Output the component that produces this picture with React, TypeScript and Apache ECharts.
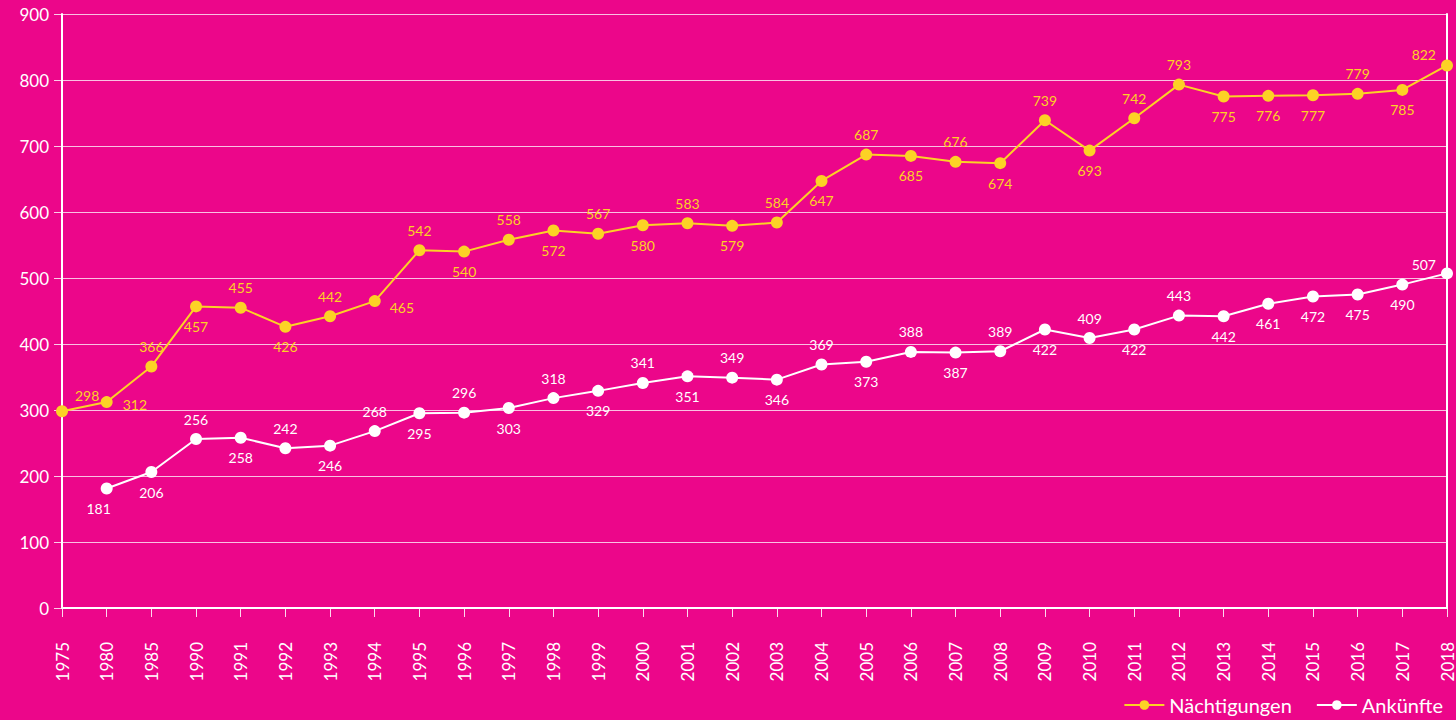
import React, { useEffect, useRef } from "react";
import * as echarts from "echarts";

const years = ["1975","1980","1985","1990","1991","1992","1993","1994","1995","1996","1997","1998","1999","2000","2001","2002","2003","2004","2005","2006","2007","2008","2009","2010","2011","2012","2013","2014","2015","2016","2017","2018"];
const naechtigungen = [298,312,366,457,455,426,442,465,542,540,558,572,567,580,583,579,584,647,687,685,676,674,739,693,742,793,775,776,777,779,785,822];
const ankuenfte = [null,181,206,256,258,242,246,268,295,296,303,318,329,341,351,349,346,369,373,388,387,389,422,409,422,443,442,461,472,475,490,507];
const nPos = ["right","right","top","bottom","top","bottom","top","right","top","bottom","top","bottom","top","bottom","top","bottom","top","bottom","top","bottom","top","bottom","top","bottom","top","top","bottom","bottom","bottom","top","bottom","left"];
const aPos = ["bottom","bottom","bottom","top","bottom","top","bottom","top","bottom","top","bottom","top","bottom","top","bottom","top","bottom","top","bottom","top","bottom","top","bottom","top","bottom","top","bottom","bottom","bottom","bottom","bottom","left"];

const BG = "#EC068A";
const YELLOW = "#FCD225";
const FONT = "Lato, 'Noto Sans', sans-serif";

function labelOffset(series: string, i: number, pos: string, n: number): number[] {
  if (series === "n" && i === 0) return [0, -16];
  if (series === "n" && i === 1) return [3, 2];
  if (series === "n" && pos === "right") return [2, 6];
  if (series === "a" && i === 1) return [-8, 0];
  if (i === n - 1) return series === "n" ? [2, -11] : [2, -9];
  return [0, 0];
}

export default function App() {
  const ref = useRef<HTMLDivElement>(null);
  useEffect(() => {
    const chart = echarts.init(ref.current!, null, { renderer: "svg" });
    const mk = (s: string, vals: (number | null)[], pos: string[]) =>
      vals.map((v, i) => ({
        value: v,
        label: { position: pos[i], offset: labelOffset(s, i, pos[i], vals.length) },
      }));
    chart.setOption({
      animation: false,
      backgroundColor: BG,
      textStyle: { fontFamily: FONT },
      grid: { left: 62, right: 9, top: 14, bottom: 112, containLabel: false },
      legend: {
        right: 8,
        bottom: 0,
        itemWidth: 40,
        itemHeight: 12,
        itemGap: 24,
        textStyle: { color: "#fff", fontSize: 20, fontFamily: FONT },
        data: ["Nächtigungen", "Ankünfte"],
      },
      xAxis: {
        type: "category",
        data: years,
        boundaryGap: false,
        axisLine: { lineStyle: { color: "#fff", width: 2 } },
        axisTick: { show: true, alignWithLabel: true, length: 9, lineStyle: { color: "rgba(255,255,255,0.85)", width: 1 } },
        axisLabel: { color: "#fff", rotate: 90, fontSize: 17, margin: 34, interval: 0, fontFamily: FONT },
      },
      yAxis: [
        {
          type: "value",
          min: 0,
          max: 900,
          interval: 100,
          axisLine: { show: true, lineStyle: { color: "#fff", width: 2 } },
          axisTick: { show: true, length: 8, lineStyle: { color: "rgba(255,255,255,0.8)" } },
          axisLabel: { color: "#fff", fontSize: 17, margin: 13, fontFamily: FONT },
          splitLine: { lineStyle: { color: "rgba(255,255,255,0.75)", width: 1 } },
        },
        {
          type: "value",
          min: 0,
          max: 900,
          interval: 100,
          position: "right",
          axisLine: { show: true, lineStyle: { color: "#fff", width: 2 } },
          axisTick: { show: false },
          axisLabel: { show: false },
          splitLine: { show: false },
        },
      ],
      series: [
        {
          name: "Nächtigungen",
          type: "line",
          data: mk("n", naechtigungen, nPos),
          symbol: "circle",
          symbolSize: 12,
          itemStyle: { color: YELLOW },
          lineStyle: { color: YELLOW, width: 2 },
          label: { show: true, color: YELLOW, fontSize: 14, distance: 7, fontFamily: FONT },
        },
        {
          name: "Ankünfte",
          type: "line",
          data: mk("a", ankuenfte, aPos),
          symbol: "circle",
          symbolSize: 12,
          itemStyle: { color: "#fff" },
          lineStyle: { color: "#fff", width: 2 },
          label: { show: true, color: "#fff", fontSize: 14, distance: 7, fontFamily: FONT },
        },
      ],
    });
    return () => chart.dispose();
  }, []);
  return <div ref={ref} style={{ width: 1456, height: 720, position: "absolute", left: 0, top: 0 }} />;
}
